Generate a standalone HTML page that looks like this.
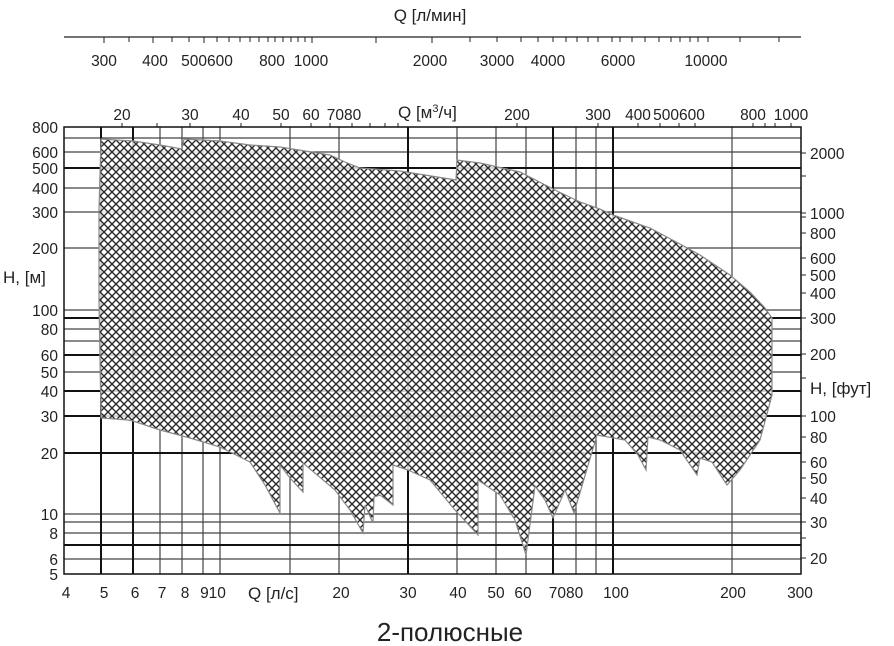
<!DOCTYPE html>
<html><head><meta charset="utf-8"><style>
body{margin:0;background:#fff}
svg{display:block}
text{font-family:"Liberation Sans","DejaVu Sans",sans-serif;fill:#222}
</style></head><body>
<svg width="894" height="646" viewBox="0 0 894 646" xmlns="http://www.w3.org/2000/svg">
<defs>
<pattern id="h" width="8" height="8" patternUnits="userSpaceOnUse">
<path d="M0,0L8,8M8,0L0,8M-1,7L1,9M7,-1L9,1M7,9L9,7M-1,1L1,-1" stroke="#2a2a2a" stroke-width="1.4"/>
</pattern>
</defs>
<text x="430" y="21" font-size="17" text-anchor="middle">Q [л/мин]</text>
<line x1="64" y1="37" x2="801" y2="37" stroke="#222" stroke-width="1.3"/>
<g stroke="#222" stroke-width="1">
<line x1="104" y1="37" x2="104" y2="43"/><line x1="129" y1="37" x2="129" y2="42"/><line x1="153" y1="37" x2="153" y2="43"/><line x1="172" y1="37" x2="172" y2="42"/><line x1="189" y1="37" x2="189" y2="42"/><line x1="204" y1="37" x2="204" y2="43"/><line x1="217" y1="37" x2="217" y2="42"/><line x1="229" y1="37" x2="229" y2="42"/><line x1="240" y1="37" x2="240" y2="42"/><line x1="250" y1="37" x2="250" y2="42"/><line x1="259" y1="37" x2="259" y2="42"/><line x1="268" y1="37" x2="268" y2="42"/><line x1="275" y1="37" x2="275" y2="42"/><line x1="283" y1="37" x2="283" y2="42"/><line x1="291" y1="37" x2="291" y2="42"/><line x1="298" y1="37" x2="298" y2="42"/><line x1="305" y1="37" x2="305" y2="42"/><line x1="312" y1="37" x2="312" y2="43"/><line x1="376" y1="37" x2="376" y2="43"/><line x1="432" y1="37" x2="432" y2="43"/><line x1="470" y1="37" x2="470" y2="42"/><line x1="497" y1="37" x2="497" y2="42"/><line x1="521" y1="37" x2="521" y2="42"/><line x1="538" y1="37" x2="538" y2="42"/><line x1="553" y1="37" x2="553" y2="42"/><line x1="566" y1="37" x2="566" y2="42"/><line x1="577" y1="37" x2="577" y2="42"/><line x1="588" y1="37" x2="588" y2="42"/><line x1="598" y1="37" x2="598" y2="42"/><line x1="612" y1="37" x2="612" y2="42"/><line x1="620" y1="37" x2="620" y2="42"/><line x1="632" y1="37" x2="632" y2="42"/><line x1="645" y1="37" x2="645" y2="42"/><line x1="659" y1="37" x2="659" y2="42"/><line x1="671" y1="37" x2="671" y2="42"/><line x1="680" y1="37" x2="680" y2="42"/><line x1="690" y1="37" x2="690" y2="42"/><line x1="698" y1="37" x2="698" y2="42"/><line x1="708" y1="37" x2="708" y2="42"/><line x1="740" y1="37" x2="740" y2="42"/><line x1="779" y1="37" x2="779" y2="42"/>
</g>
<g font-size="15.5" text-anchor="middle">
<text x="104" y="66">300</text><text x="155" y="66">400</text><text x="207" y="66">500600</text><text x="272" y="66">800</text><text x="311" y="66">1000</text><text x="430" y="66">2000</text><text x="497" y="66">3000</text><text x="548" y="66">4000</text><text x="618" y="66">6000</text><text x="706" y="66">10000</text>
</g>
<g font-size="15.5" text-anchor="middle">
<text x="122" y="120">20</text><text x="190" y="120">30</text><text x="241" y="120">40</text><text x="281" y="120">50</text><text x="311" y="120">60</text><text x="344" y="120">7080</text><text x="517" y="120">200</text><text x="598" y="120">300</text><text x="638" y="120">400</text><text x="679" y="120">500600</text><text x="753" y="120">800</text><text x="791" y="120">1000</text>
</g>
<text x="398" y="118" font-size="17">Q [м<tspan font-size="11" dy="-6">3</tspan><tspan dy="6">/ч]</tspan></text>
<g stroke="#222" stroke-width="1">
<line x1="122" y1="127" x2="122" y2="123"/><line x1="157" y1="127" x2="157" y2="123"/><line x1="190" y1="127" x2="190" y2="123"/><line x1="241" y1="127" x2="241" y2="123"/><line x1="281" y1="127" x2="281" y2="123"/><line x1="311" y1="127" x2="311" y2="123"/><line x1="330" y1="127" x2="330" y2="123"/><line x1="352" y1="127" x2="352" y2="123"/><line x1="370" y1="127" x2="370" y2="123"/><line x1="385" y1="127" x2="385" y2="123"/><line x1="398" y1="127" x2="398" y2="123"/><line x1="517" y1="127" x2="517" y2="123"/><line x1="598" y1="127" x2="598" y2="123"/><line x1="638" y1="127" x2="638" y2="123"/><line x1="660" y1="127" x2="660" y2="123"/><line x1="679" y1="127" x2="679" y2="123"/><line x1="695" y1="127" x2="695" y2="123"/><line x1="753" y1="127" x2="753" y2="123"/><line x1="765" y1="127" x2="765" y2="123"/><line x1="775" y1="127" x2="775" y2="123"/><line x1="791" y1="127" x2="791" y2="123"/>
</g>
<g stroke="#444" stroke-width="1.2">
<line x1="64" y1="138" x2="801" y2="138"/><line x1="64" y1="152" x2="801" y2="152"/><line x1="64" y1="188" x2="801" y2="188"/><line x1="64" y1="212" x2="801" y2="212"/><line x1="64" y1="248" x2="801" y2="248"/><line x1="64" y1="310" x2="801" y2="310"/><line x1="64" y1="329" x2="801" y2="329"/><line x1="64" y1="341" x2="801" y2="341"/><line x1="64" y1="372" x2="801" y2="372"/><line x1="64" y1="514" x2="801" y2="514"/><line x1="64" y1="522" x2="801" y2="522"/><line x1="64" y1="533" x2="801" y2="533"/><line x1="64" y1="559" x2="801" y2="559"/>
<line x1="160" y1="127" x2="160" y2="574"/><line x1="182" y1="127" x2="182" y2="574"/><line x1="203" y1="127" x2="203" y2="574"/><line x1="220" y1="127" x2="220" y2="574"/><line x1="290" y1="127" x2="290" y2="574"/><line x1="339" y1="127" x2="339" y2="574"/><line x1="457" y1="127" x2="457" y2="574"/><line x1="496" y1="127" x2="496" y2="574"/><line x1="526" y1="127" x2="526" y2="574"/><line x1="576" y1="127" x2="576" y2="574"/><line x1="596" y1="127" x2="596" y2="574"/><line x1="732" y1="127" x2="732" y2="574"/>
</g>
<g stroke="#111" stroke-width="2">
<line x1="64" y1="168" x2="801" y2="168"/><line x1="64" y1="318" x2="801" y2="318"/><line x1="64" y1="355" x2="801" y2="355"/><line x1="64" y1="391" x2="801" y2="391"/><line x1="64" y1="416" x2="801" y2="416"/><line x1="64" y1="453" x2="801" y2="453"/><line x1="64" y1="545" x2="801" y2="545"/>
<line x1="101" y1="127" x2="101" y2="574"/><line x1="133" y1="127" x2="133" y2="574"/><line x1="408" y1="127" x2="408" y2="574"/><line x1="553" y1="127" x2="553" y2="574"/><line x1="613" y1="127" x2="613" y2="574"/>
</g>
<rect x="64" y="127" width="737" height="447" fill="none" stroke="#111" stroke-width="1.5"/>
<g id="reg">
<polygon fill="#fff" fill-opacity="0.82" stroke="none" points="101,139 133,141 160,145 182,149 184,139 220,141 250,145 280,147 330,155 345,162 360,168 400,171 456,180 457,160 480,163 520,172 555,190 580,202 600,209 613,215 630,221 650,228 680,244 700,255 730,275 750,292 765,308 772,318 772,395 760,440 740,470 727,485 712,462 700,458 697,475 680,450 660,440 648,437 646,470 638,455 625,440 597,435 574,513 565,490 553,518 545,500 535,486 526,555 515,520 500,495 478,480 478,535 455,510 430,480 408,470 393,465 393,505 380,495 374,497 373,523 365,505 363,533 350,510 335,490 303,463 303,492 290,478 280,465 280,513 265,485 250,462 220,447 190,438 160,430 133,421 128,420 101,418 99,300 99,210"/>
<polygon fill="url(#h)" stroke="#888" stroke-width="1.2" points="101,139 133,141 160,145 182,149 184,139 220,141 250,145 280,147 330,155 345,162 360,168 400,171 456,180 457,160 480,163 520,172 555,190 580,202 600,209 613,215 630,221 650,228 680,244 700,255 730,275 750,292 765,308 772,318 772,395 760,440 740,470 727,485 712,462 700,458 697,475 680,450 660,440 648,437 646,470 638,455 625,440 597,435 574,513 565,490 553,518 545,500 535,486 526,555 515,520 500,495 478,480 478,535 455,510 430,480 408,470 393,465 393,505 380,495 374,497 373,523 365,505 363,533 350,510 335,490 303,463 303,492 290,478 280,465 280,513 265,485 250,462 220,447 190,438 160,430 133,421 128,420 101,418 99,300 99,210"/>
</g>
<g font-size="15.5" text-anchor="end">
<text x="58" y="133">800</text><text x="58" y="158">600</text><text x="58" y="174">500</text><text x="58" y="194">400</text><text x="58" y="218">300</text><text x="58" y="254">200</text><text x="58" y="316">100</text><text x="58" y="335">80</text><text x="58" y="361">60</text><text x="58" y="378">50</text><text x="58" y="397">40</text><text x="58" y="422">30</text><text x="58" y="459">20</text><text x="58" y="520">10</text><text x="58" y="539">8</text><text x="58" y="565">6</text><text x="58" y="580">5</text>
</g>
<text x="3" y="283" font-size="17">H, [м]</text>
<g stroke="#222" stroke-width="1">
<line x1="801" y1="153" x2="806" y2="153"/><line x1="801" y1="176" x2="806" y2="176"/><line x1="801" y1="213" x2="806" y2="213"/><line x1="801" y1="217" x2="806" y2="217"/><line x1="801" y1="233" x2="806" y2="233"/><line x1="801" y1="258" x2="806" y2="258"/><line x1="801" y1="275" x2="806" y2="275"/><line x1="801" y1="293" x2="806" y2="293"/><line x1="801" y1="318" x2="806" y2="318"/><line x1="801" y1="354" x2="806" y2="354"/><line x1="801" y1="378" x2="806" y2="378"/><line x1="801" y1="416" x2="806" y2="416"/><line x1="801" y1="437" x2="806" y2="437"/><line x1="801" y1="462" x2="806" y2="462"/><line x1="801" y1="478" x2="806" y2="478"/><line x1="801" y1="498" x2="806" y2="498"/><line x1="801" y1="522" x2="806" y2="522"/><line x1="801" y1="538" x2="806" y2="538"/><line x1="801" y1="558" x2="806" y2="558"/>
</g>
<g font-size="15.5">
<text x="810" y="159">2000</text><text x="810" y="219">1000</text><text x="810" y="239">800</text><text x="810" y="264">600</text><text x="810" y="281">500</text><text x="810" y="299">400</text><text x="810" y="324">300</text><text x="810" y="360">200</text><text x="810" y="422">100</text><text x="810" y="443">80</text><text x="810" y="468">60</text><text x="810" y="484">50</text><text x="810" y="504">40</text><text x="810" y="528">30</text><text x="810" y="564">20</text>
</g>
<text x="810" y="394" font-size="17">H, [фут]</text>
<g font-size="15.5" text-anchor="middle">
<text x="66" y="598">4</text><text x="104" y="598">5</text><text x="135" y="598">6</text><text x="162" y="598">7</text><text x="185" y="598">8</text><text x="213" y="598">910</text><text x="341" y="598">20</text><text x="408" y="598">30</text><text x="458" y="598">40</text><text x="496" y="598">50</text><text x="523" y="598">60</text><text x="566" y="598">7080</text><text x="616" y="598">100</text><text x="733" y="598">200</text><text x="800" y="598">300</text>
</g>
<text x="248" y="599" font-size="17">Q [л/с]</text>
<text x="450" y="641" font-size="26" text-anchor="middle" fill="#3a3a3a">2-полюсные</text>
</svg>
</body></html>
